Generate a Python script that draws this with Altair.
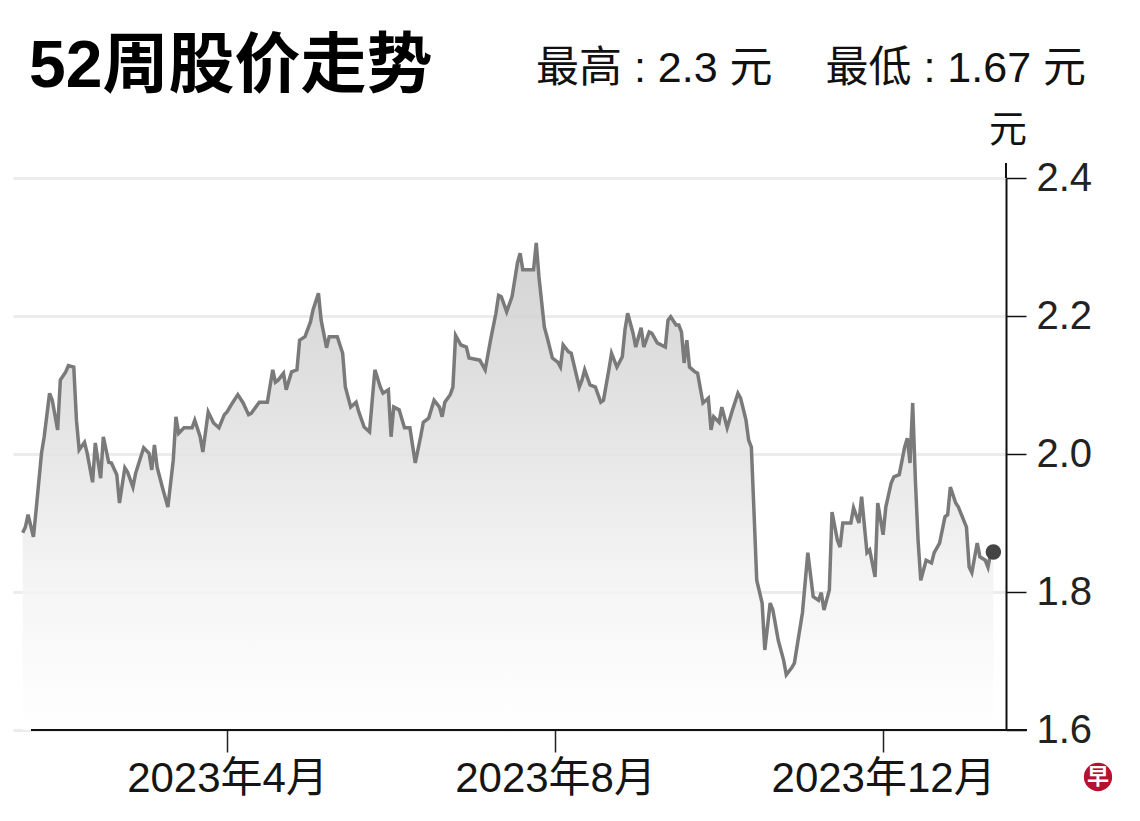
import altair as alt
import pandas as pd

# ---- data ----
# day offsets from 2023-01-01 and closing prices (元)
days = [14, 15, 16, 18, 19, 21, 22, 24, 25, 27, 28, 30, 31, 33, 34, 35, 37, 38, 40, 41,
        43, 44, 46, 47, 49, 50, 52, 53, 55, 56, 59, 61, 62, 63, 64, 66, 68, 70, 71, 72,
        74, 77, 78, 80, 81, 83, 85, 87, 89, 90, 92, 94, 96, 98, 99, 102,
        105, 107, 108, 109, 111, 112, 114, 116, 117, 119, 121, 122, 124, 125, 127, 128, 131, 133, 134, 136,
        138, 139, 141, 143, 144, 145, 147, 148, 150, 151, 152, 154, 156, 158, 160, 162, 163, 165, 167, 169,
        170, 171, 173, 174, 175, 177, 179, 180, 184, 186, 188, 190, 191, 192, 194, 196, 198, 199, 200, 204,
        205, 206, 208, 209,
        211, 213, 214, 215, 217, 218, 221, 222, 223, 225, 227, 229, 230, 232, 233, 235, 237, 238, 239, 241,
        242, 244, 245, 247, 248, 250, 253, 254, 255, 257, 258, 259, 260, 261, 262, 264, 265, 267, 269, 270,
        271, 273, 274, 276, 278, 280, 281, 283, 284,
        285, 286, 287, 289, 290, 292, 293, 295, 297, 298, 300, 301, 304, 306, 308, 310, 311, 312, 314, 315,
        317, 318, 319, 322, 323, 325, 326, 328, 329, 331, 332, 334, 335, 337, 338, 340, 342, 343, 344, 345,
        346, 347, 348, 350, 352, 353, 355, 357, 358, 359, 361, 362, 365, 366, 367, 369, 370, 372, 373, 374,
        375]

prices = [1.886, 1.894, 1.912, 1.880, 1.919, 2.001, 2.025, 2.088, 2.078, 2.035,
          2.107, 2.119, 2.128, 2.126, 2.049, 2.006, 2.017, 2.001, 1.959, 2.016,
          1.965, 2.025, 1.988, 1.987, 1.970, 1.929, 1.980, 1.974, 1.952, 1.972,
          2.009, 2.001, 1.977, 2.013, 1.981, 1.951, 1.923, 1.991, 2.054, 2.030,
          2.038, 2.038, 2.049, 2.025, 2.003, 2.061, 2.045, 2.038, 2.057, 2.061,
          2.074, 2.086, 2.074, 2.057, 2.059, 2.075,
          2.075, 2.122, 2.104, 2.107, 2.117, 2.093, 2.119, 2.122, 2.165, 2.170,
          2.191, 2.209, 2.233, 2.194, 2.154, 2.170, 2.170, 2.146, 2.097, 2.068,
          2.075, 2.061, 2.039, 2.032, 2.078, 2.122, 2.097, 2.088, 2.093, 2.025,
          2.068, 2.064, 2.038, 2.038, 1.987, 2.025, 2.046, 2.052, 2.078, 2.068,
          2.054, 2.075, 2.086, 2.097, 2.172, 2.158, 2.155, 2.139, 2.136, 2.122,
          2.165, 2.204, 2.230, 2.228, 2.206, 2.228, 2.277, 2.291, 2.267, 2.267,
          2.306, 2.257, 2.184, 2.170,
          2.139, 2.133, 2.126, 2.158, 2.148, 2.146, 2.097, 2.107, 2.122, 2.100,
          2.097, 2.075, 2.078, 2.122, 2.146, 2.126, 2.141, 2.180, 2.204, 2.175,
          2.155, 2.183, 2.155, 2.177, 2.175, 2.161, 2.155, 2.194, 2.199, 2.187,
          2.187, 2.177, 2.132, 2.165, 2.126, 2.119, 2.117, 2.074, 2.081, 2.035,
          2.054, 2.046, 2.068, 2.038, 2.064, 2.088, 2.081, 2.049, 2.020,
          2.010, 1.914, 1.817, 1.784, 1.716, 1.784, 1.774, 1.730, 1.701, 1.680,
          1.690, 1.697, 1.770, 1.857, 1.793, 1.788, 1.799, 1.774, 1.803, 1.916,
          1.875, 1.865, 1.900, 1.900, 1.922, 1.900, 1.938, 1.857, 1.861, 1.822,
          1.929, 1.883, 1.923, 1.958, 1.967, 1.970, 2.010, 2.023, 1.987, 2.074,
          1.962, 1.875, 1.817, 1.846, 1.842, 1.857, 1.871, 1.909, 1.912, 1.952,
          1.929, 1.923, 1.894, 1.836, 1.828, 1.871, 1.851, 1.846, 1.836, 1.857,
          1.858]

y_ticks = [1.6, 1.8, 2.0, 2.2, 2.4]
y_floor = 1.6
x_tick_months = [(2023, 4), (2023, 8), (2023, 12)]

title_text = "52周股价走势"
high_text = "最高 : 2.3 元"
low_text = "最低 : 1.67 元"
unit_text = "元"
logo_text = "早"

# ---- table ----
df = pd.DataFrame({
    "date": pd.Timestamp("2023-01-01") + pd.to_timedelta(days, unit="D"),
    "price": prices,
})
last = df.tail(1)

FONT = "Liberation Sans, Noto Sans CJK SC, sans-serif"
W, H = 993, 552

x_enc = alt.X(
    "date:T",
    scale=alt.Scale(domain=[alt.DateTime(year=2023, month=1, date=11, hours=9, minutes=36),
                            alt.DateTime(year=2024, month=1, date=15, hours=16, minutes=48)]),
    axis=alt.Axis(
        values=[alt.DateTime(year=y, month=m, date=1) for y, m in x_tick_months],
        format="%Y年%-m月", title=None, domain=False, grid=False,
        tickSize=22, tickColor="#222222", tickWidth=1.5,
        labelFont=FONT, labelFontSize=42, labelColor="#151515", labelPadding=6,
        labelFlush=False, labelOverlap=False, labelLimit=0,
    ),
)
y_enc = alt.Y(
    "price:Q",
    scale=alt.Scale(domain=[1.6, 2.4], zero=False, nice=False),
    axis=alt.Axis(
        orient="right", values=y_ticks, format=".1f", title=None,
        domainColor="#111111", domainWidth=2,
        tickSize=20, tickColor="#111111", tickWidth=1.5,
        grid=True, gridColor="#ececec", gridWidth=3,
        labelFont=FONT, labelFontSize=40, labelColor="#222222", labelPadding=10,
        labelBaseline="middle",
    ),
)

gradient = alt.Gradient(
    gradient="linear",
    stops=[alt.GradientStop(color="#cbcbcb", offset=0),
           alt.GradientStop(color="#e3e3e3", offset=0.43),
           alt.GradientStop(color="#f4f4f4", offset=0.72),
           alt.GradientStop(color="#ffffff", offset=1)],
    x1=0, x2=0, y1=0, y2=1,
)

base = alt.Chart(df)
area = base.mark_area(color=gradient, fillOpacity=0.85).encode(
    x=x_enc, y=y_enc, y2=alt.datum(y_floor))
line = base.mark_line(color="#7a7a7a", strokeWidth=3.5, strokeJoin="miter").encode(x=x_enc, y=y_enc)
dot = alt.Chart(last).mark_circle(size=240, color="#444444", opacity=1).encode(x=x_enc, y=y_enc)

one = pd.DataFrame({"k": [0]})
x_rule = alt.Chart(one).mark_rule(color="#111111", strokeWidth=2).encode(
    x=alt.value(18), x2=alt.value(1014), y=alt.value(H))
y_ext = alt.Chart(one).mark_rule(color="#111111", strokeWidth=2).encode(
    x=alt.value(W), y=alt.value(-15), y2=alt.value(0))

title = alt.Chart(pd.DataFrame({"t": [title_text]})).mark_text(
    font=FONT, fontSize=66, fontWeight="bold", align="left", baseline="alphabetic", color="#000000"
).encode(x=alt.value(16), y=alt.value(-91), text="t:N")
high = alt.Chart(pd.DataFrame({"t": [high_text]})).mark_text(
    font=FONT, fontSize=43, align="left", baseline="alphabetic", color="#111111"
).encode(x=alt.value(523), y=alt.value(-96), text="t:N")
low = alt.Chart(pd.DataFrame({"t": [low_text]})).mark_text(
    font=FONT, fontSize=43, align="right", baseline="alphabetic", color="#111111"
).encode(x=alt.value(1073), y=alt.value(-96), text="t:N")
unit = alt.Chart(pd.DataFrame({"t": [unit_text]})).mark_text(
    font=FONT, fontSize=38, align="center", baseline="alphabetic", color="#111111"
).encode(x=alt.value(995), y=alt.value(-36), text="t:N")
logo_bg = alt.Chart(one).mark_circle(size=800, color="#b5122f", opacity=1).encode(
    x=alt.value(1085), y=alt.value(599))
logo = alt.Chart(pd.DataFrame({"t": [logo_text]})).mark_text(
    font=FONT, fontSize=22, fontWeight="bold", align="center", baseline="middle", color="#ffffff"
).encode(x=alt.value(1085), y=alt.value(599), text="t:N")

chart = alt.layer(
    area, line, dot, x_rule, y_ext, title, high, low, unit, logo_bg, logo
).properties(
    width=W, height=H,
    autosize=alt.AutoSizeParams(type="none"),
    padding={"left": 5, "top": 170, "right": 110, "bottom": 85},
    background="#ffffff",
).configure_view(stroke=None)

chart.save("out.html", embed_options={"renderer": "svg", "actions": False})
